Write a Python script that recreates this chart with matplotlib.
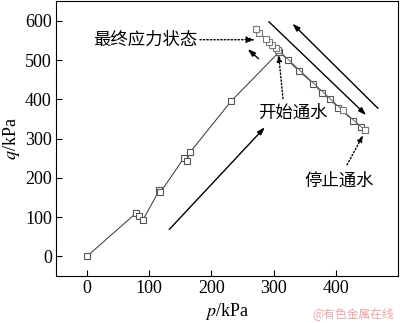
import matplotlib.pyplot as plt

plt.rcParams['font.family'] = ['Liberation Serif', 'Noto Sans CJK SC']
plt.rcParams['mathtext.fontset'] = 'stix'

# loading path (p, q in kPa)
load_p = [0, 78, 84, 90, 116, 118, 156, 160, 166, 232, 309]
load_q = [0, 109, 102, 93, 168, 163, 251, 244, 266, 396, 521]

# water flow: q drops down to stop point
flow_p = [309, 323, 340, 364, 378, 390, 404, 428, 441, 447]
flow_q = [521, 500, 473, 440, 416, 400, 379, 346, 329, 321]

# after stopping: back up to final state
back_p = [447, 411, 307, 303, 298, 292, 287, 277, 271]
back_q = [321, 372, 526, 531, 539, 547, 555, 570, 580]

fig = plt.figure(figsize=(4.0, 3.23), dpi=100)
ax = fig.add_axes([0.14, 0.146, 0.855, 0.85])

mk = dict(marker='s', markersize=4.5, markerfacecolor='white',
          markeredgewidth=0.8)
ax.plot(load_p, load_q, color='#333333', lw=0.7, markeredgecolor='#555555', **mk)
ax.plot(flow_p, flow_q, color='#333333', lw=0.7, markeredgecolor='#555555', **mk)
ax.plot(back_p, back_q, color='#666666', lw=0.7, markeredgecolor='#777777', **mk)

arr = dict(arrowstyle='-|>,head_length=0.45,head_width=0.15', color='black', lw=1.0)
ax.annotate('', xy=(289, 334), xytext=(129, 63), arrowprops=arr)
ax.annotate('', xy=(255, 533), xytext=(279, 499), arrowprops=arr)
ax.annotate('', xy=(452, 355), xytext=(289, 603), arrowprops=arr)
ax.annotate('', xy=(327, 598), xytext=(471, 372), arrowprops=arr)

dot = dict(arrowstyle='-|>,head_length=0.4,head_width=0.15', color='black',
           lw=1.0, linestyle=(0, (1, 1.5)), shrinkA=0, shrinkB=0)
cjk = ['Noto Sans CJK SC', 'DejaVu Sans']
ax.annotate('最终应力状态', xy=(270, 552), xytext=(177, 552), arrowprops=dot,
            family=cjk, fontsize=12.5, ha='right', va='center')
ax.annotate('', xy=(308, 514), xytext=(315, 402), arrowprops=dot)
ax.text(331, 367, '开始通水', family=cjk, fontsize=12.5, ha='center', va='center')
ax.annotate('', xy=(444, 309), xytext=(418, 233), arrowprops=dot)
ax.text(405, 193, '停止通水', family=cjk, fontsize=12.5, ha='center', va='center')

ax.set_xlim(-50, 500)
ax.set_ylim(-50, 650)
ax.set_xticks([0, 100, 200, 300, 400])
ax.set_yticks([0, 100, 200, 300, 400, 500, 600])
ax.tick_params(direction='in', labelsize=13, length=4, pad=3)
ax.set_xlabel('$p$/kPa', fontsize=13, labelpad=3)
ax.set_ylabel('$q$/kPa', fontsize=13, labelpad=2)

fig.text(0.985, 0.01, '@有色金属在线', family=cjk, fontsize=8.5,
         color='#eba4a4', ha='right', va='bottom')

fig.savefig('out.png', dpi=100)
